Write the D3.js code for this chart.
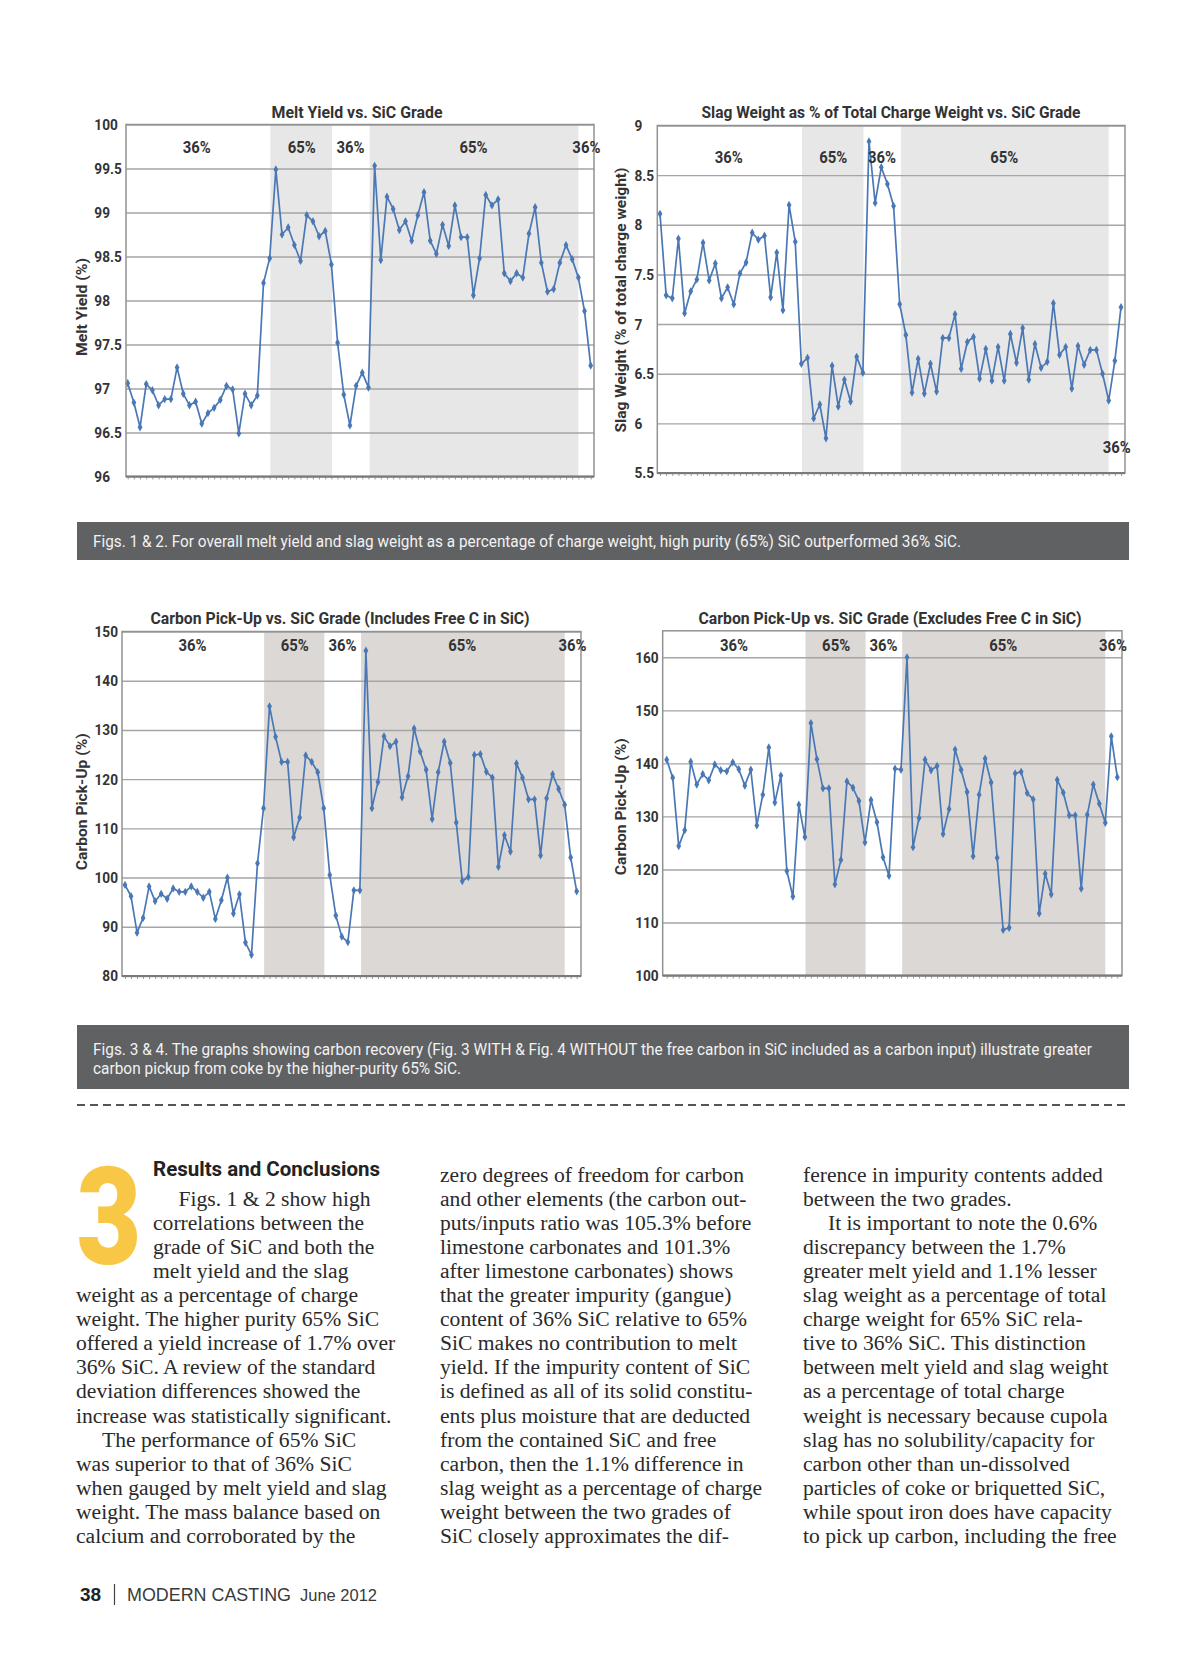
<!DOCTYPE html>
<html>
<head>
<meta charset="utf-8">
<script src="https://cdn.jsdelivr.net/npm/d3@7"></script>
<style>
body { margin: 0; background: #fff; }
svg { display: block; }
</style>
</head>
<body>
<svg id="page" width="1200" height="1655"></svg>
<script>
// ---- values (76 heats each) ----
const meltYield = [97.06, 96.84, 96.56, 97.05, 96.98, 96.81, 96.88, 96.88, 97.24, 96.94,
  96.81, 96.85, 96.60, 96.72, 96.78, 96.87, 97.03, 96.99, 96.49, 96.94,
  96.81, 96.92, 98.20, 98.48, 99.49, 98.75, 98.83, 98.63, 98.45, 98.97,
  98.90, 98.73, 98.79, 98.41, 97.52, 96.93, 96.58, 97.03, 97.18, 97.01,
  99.53, 98.46, 99.18, 99.04, 98.80, 98.90, 98.68, 98.97, 99.23, 98.68,
  98.53, 98.86, 98.62, 99.08, 98.72, 98.72, 98.06, 98.48, 99.20, 99.08,
  99.15, 98.31, 98.22, 98.31, 98.26, 98.76, 99.06, 98.43, 98.10, 98.13,
  98.43, 98.63, 98.47, 98.26, 97.88, 97.26];

const slagWeight = [8.11, 7.29, 7.26, 7.86, 7.11, 7.33, 7.45, 7.82, 7.44, 7.61,
  7.26, 7.37, 7.20, 7.51, 7.62, 7.92, 7.85, 7.89, 7.27, 7.72,
  7.14, 8.20, 7.83, 6.60, 6.66, 6.05, 6.19, 5.85, 6.58, 6.17,
  6.44, 6.22, 6.67, 6.51, 8.84, 8.22, 8.58, 8.41, 8.19, 7.20,
  6.89, 6.31, 6.65, 6.30, 6.60, 6.32, 6.86, 6.86, 7.10, 6.55,
  6.82, 6.87, 6.45, 6.75, 6.43, 6.77, 6.43, 6.90, 6.61, 6.96,
  6.44, 6.80, 6.56, 6.62, 7.21, 6.69, 6.77, 6.35, 6.78, 6.59,
  6.74, 6.74, 6.50, 6.23, 6.63, 7.17];

const carbonIncl = [98.5, 96.2, 88.8, 91.8, 98.2, 95.2, 96.7, 95.7, 97.8, 97.1,
  97.1, 98.2, 97.1, 95.9, 97.1, 91.6, 95.4, 100.0, 92.7, 96.6,
  86.8, 84.3, 102.9, 114.1, 134.8, 128.6, 123.5, 123.5, 108.2, 112.2,
  124.8, 123.5, 121.4, 114.1, 100.5, 92.3, 88.0, 86.9, 97.4, 97.4,
  146.1, 114.1, 119.4, 128.7, 126.7, 127.6, 116.3, 120.6, 130.3, 125.6,
  121.9, 111.9, 121.4, 127.6, 123.3, 111.2, 99.3, 100.1, 124.9, 125.1,
  121.5, 120.3, 102.2, 108.6, 105.3, 123.2, 120.3, 115.9, 115.9, 104.5,
  116.1, 121.0, 118.0, 114.8, 104.1, 97.2];

const carbonExcl = [140.7, 137.3, 124.4, 127.4, 140.3, 136.0, 138.0, 136.8, 139.8, 138.7,
  138.5, 140.2, 138.9, 135.8, 138.8, 128.3, 134.1, 143.0, 132.6, 137.7,
  119.7, 114.9, 132.2, 126.1, 147.6, 140.8, 135.3, 135.3, 117.2, 121.8,
  136.6, 135.4, 132.9, 125.1, 133.1, 128.9, 122.3, 118.8, 139.0, 138.8,
  160.0, 124.2, 129.7, 140.7, 138.7, 139.5, 126.7, 131.4, 142.6, 138.8,
  134.6, 122.5, 134.1, 140.9, 136.4, 122.2, 108.6, 109.0, 138.1, 138.4,
  134.4, 133.2, 111.7, 119.2, 115.3, 136.9, 134.5, 130.2, 130.2, 116.4,
  130.3, 136.0, 132.4, 128.8, 145.1, 137.4];

// tick labels
const meltTicks = [96, 96.5, 97, 97.5, 98, 98.5, 99, 99.5, 100];
const slagTicks = [5.5, 6, 6.5, 7, 7.5, 8, 8.5, 9];
const carbonInclTicks = [80, 90, 100, 110, 120, 130, 140, 150];
const carbonExclTicks = [100, 110, 120, 130, 140, 150, 160];

// SiC grade runs (in heat index units)
const gradeNames = ["36%", "65%", "36%", "65%", "36%"];
const gradeSpots = [11.2, 28.2, 36.1, 56, 74.3];
const bands65 = [[23.1, 33.1], [39.2, 73.0]];

const titles = ["Melt Yield vs. SiC Grade",
  "Slag Weight as % of Total Charge Weight vs. SiC Grade",
  "Carbon Pick-Up vs. SiC Grade (Includes Free C in SiC)",
  "Carbon Pick-Up vs. SiC Grade (Excludes Free C in SiC)"];
const yTitles = ["Melt Yield (%)", "Slag Weight (% of total charge weight)",
  "Carbon Pick-Up (%)", "Carbon Pick-Up (%)"];

const caption1 = "Figs. 1 & 2. For overall melt yield and slag weight as a percentage of charge weight, high purity (65%) SiC outperformed 36% SiC.";
const caption2 = ["Figs. 3 & 4. The graphs showing carbon recovery (Fig. 3 WITH & Fig. 4 WITHOUT the free carbon in SiC included as a carbon input) illustrate greater",
  "carbon pickup from coke by the higher-purity 65% SiC."];

const col1 = ["Figs. 1 & 2 show high", "correlations between the", "grade of SiC and both the",
  "melt yield and the slag", "weight as a percentage of charge", "weight. The higher purity 65% SiC",
  "offered a yield increase of 1.7% over", "36% SiC. A review of the standard",
  "deviation differences showed the", "increase was statistically significant.",
  "The performance of 65% SiC", "was superior to that of 36% SiC",
  "when gauged by melt yield and slag", "weight. The mass balance based on",
  "calcium and corroborated by the"];
const col2 = ["zero degrees of freedom for carbon", "and other elements (the carbon out-",
  "puts/inputs ratio was 105.3% before", "limestone carbonates and 101.3%",
  "after limestone carbonates) shows", "that the greater impurity (gangue)",
  "content of 36% SiC relative to 65%", "SiC makes no contribution to melt",
  "yield. If the impurity content of SiC", "is defined as all of its solid constitu-",
  "ents plus moisture that are deducted", "from the contained SiC and free",
  "carbon, then the 1.1% difference in", "slag weight as a percentage of charge",
  "weight between the two grades of", "SiC closely approximates the dif-"];
const col3 = ["ference in impurity contents added", "between the two grades.",
  "It is important to note the 0.6%", "discrepancy between the 1.7%",
  "greater melt yield and 1.1% lesser", "slag weight as a percentage of total",
  "charge weight for 65% SiC rela-", "tive to 36% SiC. This distinction",
  "between melt yield and slag weight", "as a percentage of total charge",
  "weight is necessary because cupola", "slag has no solubility/capacity for",
  "carbon other than un-dissolved", "particles of coke or briquetted SiC,",
  "while spout iron does have capacity", "to pick up carbon, including the free"];

const sans = "Roboto, 'DejaVu Sans Condensed', sans-serif";
const serif = "'Liberation Serif', 'Times New Roman', serif";
const inkChart = "#333";
const lineBlue = "#4a78b5";

const svg = d3.select("#page");

// no narrow face is installed, so squeeze the glyphs horizontally
function squeeze(sel, k) {
  sel.each(function() {
    const w = this.getComputedTextLength();
    d3.select(this).attr("textLength", w * k).attr("lengthAdjust", "spacingAndGlyphs");
  });
}

// where each chart sits on the page
// labelX: left edge of tick labels when they are left-aligned (charts 1 & 2 are)
const charts = [
  { values: meltYield, ticks: meltTicks, domain: [96, 100], title: titles[0], yTitle: yTitles[0],
    left: 126, right: 594, top: 124.5, bottom: 476.5, first: 127.7, last: 590.7,
    titleX: 357, titleY: 118, titleLen: 171, yTitleX: 82, yTitleY: 307, yTitleLen: 98,
    labelX: 94.3, band: "#e7e7e7", gradeY: [146.7, 146.7, 146.7, 146.7, 146.7] },
  { values: slagWeight, ticks: slagTicks, domain: [5.5, 9], title: titles[1], yTitle: yTitles[1],
    left: 657.3, right: 1125, top: 125.5, bottom: 473, first: 660, last: 1121,
    titleX: 891, titleY: 118, titleLen: 379, yTitleX: 621, yTitleY: 300, yTitleLen: 265,
    labelX: 634.5, band: "#e7e7e7", gradeY: [156.7, 156.7, 156.7, 156.7, 446.7] },
  { values: carbonIncl, ticks: carbonInclTicks, domain: [80, 150], title: titles[2], yTitle: yTitles[2],
    left: 122, right: 581, top: 631.5, bottom: 976, first: 125, last: 576.7,
    titleX: 340, titleY: 623.5, titleLen: 379, yTitleX: 82, yTitleY: 801.7, yTitleLen: 137,
    gap: 4, band: "#dbd8d6", gradeY: [645, 645, 645, 645, 645] },
  { values: carbonExcl, ticks: carbonExclTicks, domain: [100, 165], title: titles[3], yTitle: yTitles[3],
    left: 662.7, right: 1122, top: 630.8, bottom: 975.5, first: 666.7, last: 1117.3,
    titleX: 890, titleY: 623.5, titleLen: 383, yTitleX: 621, yTitleY: 806.7, yTitleLen: 137,
    gap: 4, band: "#dbd8d6", gradeY: [645, 645, 645, 645, 645] }
];

function drawChart(c) {
  const g = svg.append("g");
  const n = c.values.length;
  const x = d3.scaleLinear().domain([0, n - 1]).range([c.first, c.last]);
  const y = d3.scaleLinear().domain(c.domain).range([c.bottom, c.top]);

  // shaded 65% runs
  g.selectAll("rect.band").data(bands65).enter().append("rect")
    .attr("x", d => x(d[0]))
    .attr("width", d => x(d[1]) - x(d[0]))
    .attr("y", c.top)
    .attr("height", c.bottom - c.top)
    .attr("fill", c.band);

  // gridlines and tick labels
  const ax = g.append("g")
    .attr("transform", `translate(${c.left},0)`)
    .call(d3.axisLeft(y).tickValues(c.ticks).tickSize(-(c.right - c.left)).tickPadding(c.gap || 4).tickFormat(d3.format("")))
    .call(a => a.select(".domain").remove())
    .call(a => a.selectAll("line").attr("stroke", "#a5a5a5").attr("stroke-width", 1.4));
  const labels = ax.selectAll("text")
    .style("font-family", sans).style("font-weight", "bold").style("font-size", "15.5px")
    .attr("fill", inkChart);
  if (c.labelX !== undefined) {
    labels.attr("x", c.labelX - c.left).attr("text-anchor", "start");
  }
  labels.call(squeeze, 0.88);

  // the data line
  const line = d3.line().x((d, i) => x(i)).y(d => y(d));
  g.append("path").datum(c.values)
    .attr("d", line)
    .attr("fill", "none")
    .attr("stroke", lineBlue)
    .attr("stroke-width", 1.7)
    .attr("stroke-linejoin", "round");

  g.selectAll("path.mark").data(c.values).enter().append("path")
    .attr("d", d3.symbol().type(d3.symbolDiamond).size(20))
    .attr("transform", (d, i) => `translate(${x(i)},${y(d)})`)
    .attr("fill", lineBlue);

  // frame
  g.append("rect")
    .attr("x", c.left).attr("y", c.top)
    .attr("width", c.right - c.left).attr("height", c.bottom - c.top)
    .attr("fill", "none").attr("stroke", "#929292").attr("stroke-width", 1.5);

  // bottom axis with a tick per heat
  g.append("g")
    .attr("transform", `translate(0,${c.bottom})`)
    .call(d3.axisBottom(x).tickValues(d3.range(n)).tickSize(3).tickFormat(""))
    .call(a => a.select(".domain").remove())
    .call(a => a.selectAll("line").attr("stroke", "#9a9a9a").attr("stroke-width", 1));
  g.append("line")
    .attr("x1", c.left).attr("x2", c.right)
    .attr("y1", c.bottom).attr("y2", c.bottom)
    .attr("stroke", "#7a7a7a").attr("stroke-width", 2);

  // grade labels
  g.selectAll("text.grade").data(gradeNames).enter().append("text")
    .attr("x", (d, i) => x(gradeSpots[i]))
    .attr("y", (d, i) => c.gradeY[i])
    .attr("dy", "0.36em")
    .attr("text-anchor", "middle")
    .style("font-family", sans).style("font-weight", "bold").style("font-size", "16.5px")
    .attr("fill", inkChart)
    .text(d => d)
    .call(squeeze, 0.9);

  // titles
  g.append("text")
    .attr("x", c.titleX).attr("y", c.titleY)
    .attr("text-anchor", "middle")
    .attr("textLength", c.titleLen).attr("lengthAdjust", "spacingAndGlyphs")
    .style("font-family", sans).style("font-weight", "bold").style("font-size", "16px")
    .attr("fill", inkChart)
    .text(c.title);

  g.append("text")
    .attr("transform", `translate(${c.yTitleX},${c.yTitleY}) rotate(-90)`)
    .attr("text-anchor", "middle")
    .attr("dy", "0.36em")
    .attr("textLength", c.yTitleLen).attr("lengthAdjust", "spacingAndGlyphs")
    .style("font-family", sans).style("font-weight", "bold").style("font-size", "15px")
    .attr("fill", inkChart)
    .text(c.yTitle);
}

charts.forEach(drawChart);

// ---- caption bars ----
svg.append("rect").attr("x", 77).attr("y", 522).attr("width", 1052).attr("height", 38).attr("fill", "#606163");
svg.append("text").attr("x", 93).attr("y", 547)
  .attr("textLength", 868).attr("lengthAdjust", "spacingAndGlyphs")
  .style("font-family", sans).style("font-size", "16.5px").attr("fill", "#f2f2f2")
  .text(caption1);

svg.append("rect").attr("x", 77).attr("y", 1025).attr("width", 1052).attr("height", 64).attr("fill", "#606163");
svg.selectAll("text.cap2").data(caption2).enter().append("text")
  .attr("x", 93).attr("y", (d, i) => 1055 + i * 19)
  .attr("textLength", (d, i) => i === 0 ? 999 : 368).attr("lengthAdjust", "spacingAndGlyphs")
  .style("font-family", sans).style("font-size", "16.5px").attr("fill", "#f2f2f2")
  .text(d => d);

svg.append("line").attr("x1", 77).attr("x2", 1129).attr("y1", 1105).attr("y2", 1105)
  .attr("stroke", "#555").attr("stroke-width", 2).attr("stroke-dasharray", "8,5");

// ---- article text ----
// drop cap: smaller face stretched tall, so its box stays clear of the lines below
svg.append("text")
  .attr("transform", "translate(76.5,1264) scale(1,1.36)")
  .attr("textLength", 65).attr("lengthAdjust", "spacingAndGlyphs")
  .style("font-family", sans).style("font-weight", "900").style("font-size", "100px")
  .attr("fill", "#f8c745")
  .text("3");

svg.append("text").attr("x", 153).attr("y", 1176)
  .attr("textLength", 227).attr("lengthAdjust", "spacingAndGlyphs")
  .style("font-family", sans).style("font-weight", "bold").style("font-size", "20px")
  .attr("fill", "#222")
  .text("Results and Conclusions");

const rowY = r => 1181.5 + r * 24.1;

function column(lines, x0, firstRow, xFor) {
  svg.append("g").selectAll("text").data(lines).enter().append("text")
    .attr("x", (d, i) => xFor ? xFor(i, x0) : x0)
    .attr("y", (d, i) => rowY(firstRow + i))
    .style("font-family", serif).style("font-size", "21.6px")
    .attr("fill", "#2a2a2a")
    .text(d => d);
}

column(col1, 76, 1, (i, x0) => i === 0 ? 178.5 : i < 4 ? 153 : i === 10 ? 102 : x0);
column(col2, 440, 0);
column(col3, 803, 0, (i, x0) => i === 2 ? 828 : x0);

// ---- footer ----
svg.append("text").attr("x", 80).attr("y", 1601)
  .style("font-family", "'Liberation Sans', sans-serif").style("font-weight", "bold").style("font-size", "19px")
  .attr("fill", "#222").text("38");
svg.append("line").attr("x1", 114.5).attr("x2", 114.5).attr("y1", 1584).attr("y2", 1605)
  .attr("stroke", "#444").attr("stroke-width", 1.2);
svg.append("text").attr("x", 127).attr("y", 1601)
  .attr("textLength", 164).attr("lengthAdjust", "spacingAndGlyphs")
  .style("font-family", "'Liberation Sans', sans-serif").style("font-size", "18px")
  .attr("fill", "#3a3a3a").text("MODERN CASTING");
svg.append("text").attr("x", 300).attr("y", 1601)
  .attr("textLength", 77).attr("lengthAdjust", "spacingAndGlyphs")
  .style("font-family", "'Liberation Sans', sans-serif").style("font-size", "17px")
  .attr("fill", "#3a3a3a").text("June 2012");
</script>
</body>
</html>
